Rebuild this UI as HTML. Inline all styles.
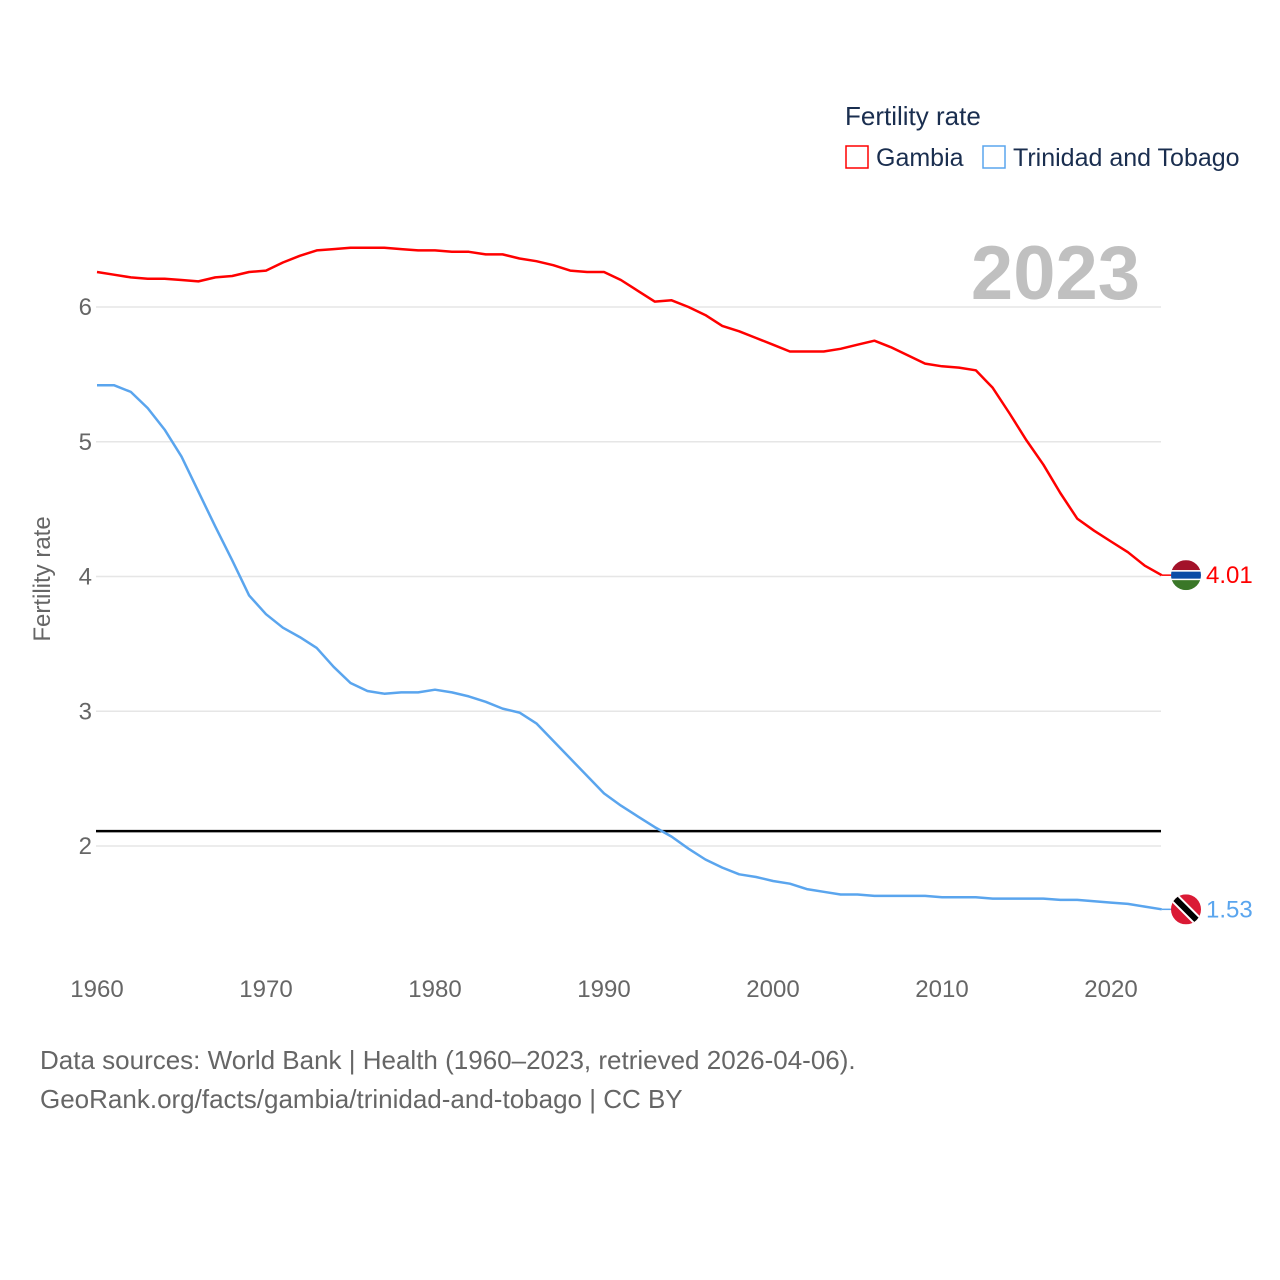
<!DOCTYPE html>
<html><head><meta charset="utf-8"><style>
body{margin:0;background:#fff;font-family:"Liberation Sans",sans-serif}
svg{display:block}
</style></head><body>
<svg id="chart" width="1280" height="1280" xmlns="http://www.w3.org/2000/svg">
<rect width="1280" height="1280" fill="#fff"/>
<g id="grid"></g>
<g id="yticks"></g>
<g id="xticks"></g>
<text x="50" y="579" transform="rotate(-90 50 579)" text-anchor="middle" font-size="24" fill="#666">Fertility rate</text>
<text x="1140" y="299" text-anchor="end" font-size="76" font-weight="bold" fill="#c0c0c0">2023</text>
<g id="series"></g>
<g>
<text x="845" y="125" font-size="26" fill="#1a2e4f">Fertility rate</text>
<g><rect x="846" y="146" width="22" height="22" fill="none" stroke="#ff0000" stroke-width="1.5"/><text x="876" y="166" font-size="25" fill="#1a2e4f">Gambia</text></g>
<g><rect x="983" y="146" width="22" height="22" fill="none" stroke="#5aa5ee" stroke-width="1.5"/><text x="1013" y="166" font-size="25" fill="#1a2e4f">Trinidad and Tobago</text></g>
</g>
<text x="40" y="1069" font-size="26" fill="#666">Data sources: World Bank | Health (1960–2023, retrieved 2026-04-06).</text>
<text x="40" y="1108" font-size="26" fill="#666">GeoRank.org/facts/gambia/trinidad-and-tobago | CC BY</text>
</svg>
<script>
const years=[];for(let y=1960;y<=2023;y++)years.push(y);
const gambia=[6.26,6.24,6.22,6.21,6.21,6.20,6.19,6.22,6.23,6.26,6.27,6.33,6.38,6.42,6.43,6.44,6.44,6.44,6.43,6.42,6.42,6.41,6.41,6.39,6.39,6.36,6.34,6.31,6.27,6.26,6.26,6.20,6.12,6.04,6.05,6.00,5.94,5.86,5.82,5.77,5.72,5.67,5.67,5.67,5.69,5.72,5.75,5.70,5.64,5.58,5.56,5.55,5.53,5.40,5.21,5.01,4.83,4.62,4.43,4.34,4.26,4.18,4.08,4.01];
const trinidad=[5.42,5.42,5.37,5.25,5.09,4.89,4.63,4.37,4.12,3.86,3.72,3.62,3.55,3.47,3.33,3.21,3.15,3.13,3.14,3.14,3.16,3.14,3.11,3.07,3.02,2.99,2.91,2.78,2.65,2.52,2.39,2.30,2.22,2.14,2.07,1.98,1.90,1.84,1.79,1.77,1.74,1.72,1.68,1.66,1.64,1.64,1.63,1.63,1.63,1.63,1.62,1.62,1.62,1.61,1.61,1.61,1.61,1.60,1.60,1.59,1.58,1.57,1.55,1.53];
const yTicks=[2,3,4,5,6];
const xTicks=[1960,1970,1980,1990,2000,2010,2020];
const replacementRate=2.11;
const NS="http://www.w3.org/2000/svg";
const X=y=>97+(y-1960)*1014/60;
const Y=v=>846-(v-2)*134.75;
function mk(tag,attrs,parent){const e=document.createElementNS(NS,tag);for(const k in attrs)e.setAttribute(k,attrs[k]);parent.appendChild(e);return e;}
const grid=document.getElementById('grid'),yt=document.getElementById('yticks'),xt=document.getElementById('xticks'),ser=document.getElementById('series');
yTicks.forEach(v=>{
 const l=mk('line',{x1:96,x2:1161,y1:Y(v),y2:Y(v),stroke:'#e6e6e6','stroke-width':1.5},grid);
 
 
 const t=mk('text',{x:92,y:Y(v)+8,'text-anchor':'end','font-size':24,fill:'#666'},yt);
 t.textContent=v;
 
 
});
xTicks.forEach(v=>{
 const t=mk('text',{x:X(v),y:997,'text-anchor':'middle','font-size':24,fill:'#666'},xt);
 t.textContent=v;
 
 
});
const rl=mk('line',{x1:96,x2:1161,y1:Y(replacementRate),y2:Y(replacementRate),stroke:'#000','stroke-width':2.5},ser);


function line(data,color,name){
 const p=mk('path',{d:data.map((v,i)=>(i?'L':'M')+X(years[i]).toFixed(1)+','+Y(v).toFixed(1)).join(''),fill:'none',stroke:color,'stroke-width':2.5,'stroke-linejoin':'round'},ser);
 
 
 const last=data[data.length-1],ly=Y(last),lx=X(years[years.length-1]);
 mk('line',{x1:lx,x2:1172,y1:ly,y2:ly,stroke:color,'stroke-width':1.5},ser);
 const t=mk('text',{x:1206,y:ly+8,'font-size':24,fill:color},ser);
 t.textContent=last.toFixed(2);
 
 
 return ly;
}
const gy=line(gambia,'#ff0000','gambia');
const ty=line(trinidad,'#5aa5ee','trinidad');
const gf=mk('g',{},ser);


const cx=1186;
mk('clipPath',{id:'cg'},gf);mk('circle',{cx:cx,cy:gy,r:15},gf.lastChild);
const gg=mk('g',{'clip-path':'url(#cg)'},gf);
mk('rect',{x:cx-15,y:gy-15,width:30,height:10,fill:'#a3122a'},gg);
mk('rect',{x:cx-15,y:gy-5,width:30,height:10,fill:'#fff'},gg);
mk('rect',{x:cx-15,y:gy-3.5,width:30,height:7,fill:'#0c4ca6'},gg);
mk('rect',{x:cx-15,y:gy+5,width:30,height:10,fill:'#3a7728'},gg);
const tf=mk('g',{},ser);


mk('clipPath',{id:'ct'},tf);mk('circle',{cx:cx,cy:ty,r:15},tf.lastChild);
const tg=mk('g',{'clip-path':'url(#ct)'},tf);
mk('rect',{x:cx-15,y:ty-15,width:30,height:30,fill:'#da1a35'},tg);
mk('line',{x1:cx-15,y1:ty-15,x2:cx+15,y2:ty+15,stroke:'#fff','stroke-width':10},tg);
mk('line',{x1:cx-15,y1:ty-15,x2:cx+15,y2:ty+15,stroke:'#000','stroke-width':6},tg);
</script>
</body></html>
